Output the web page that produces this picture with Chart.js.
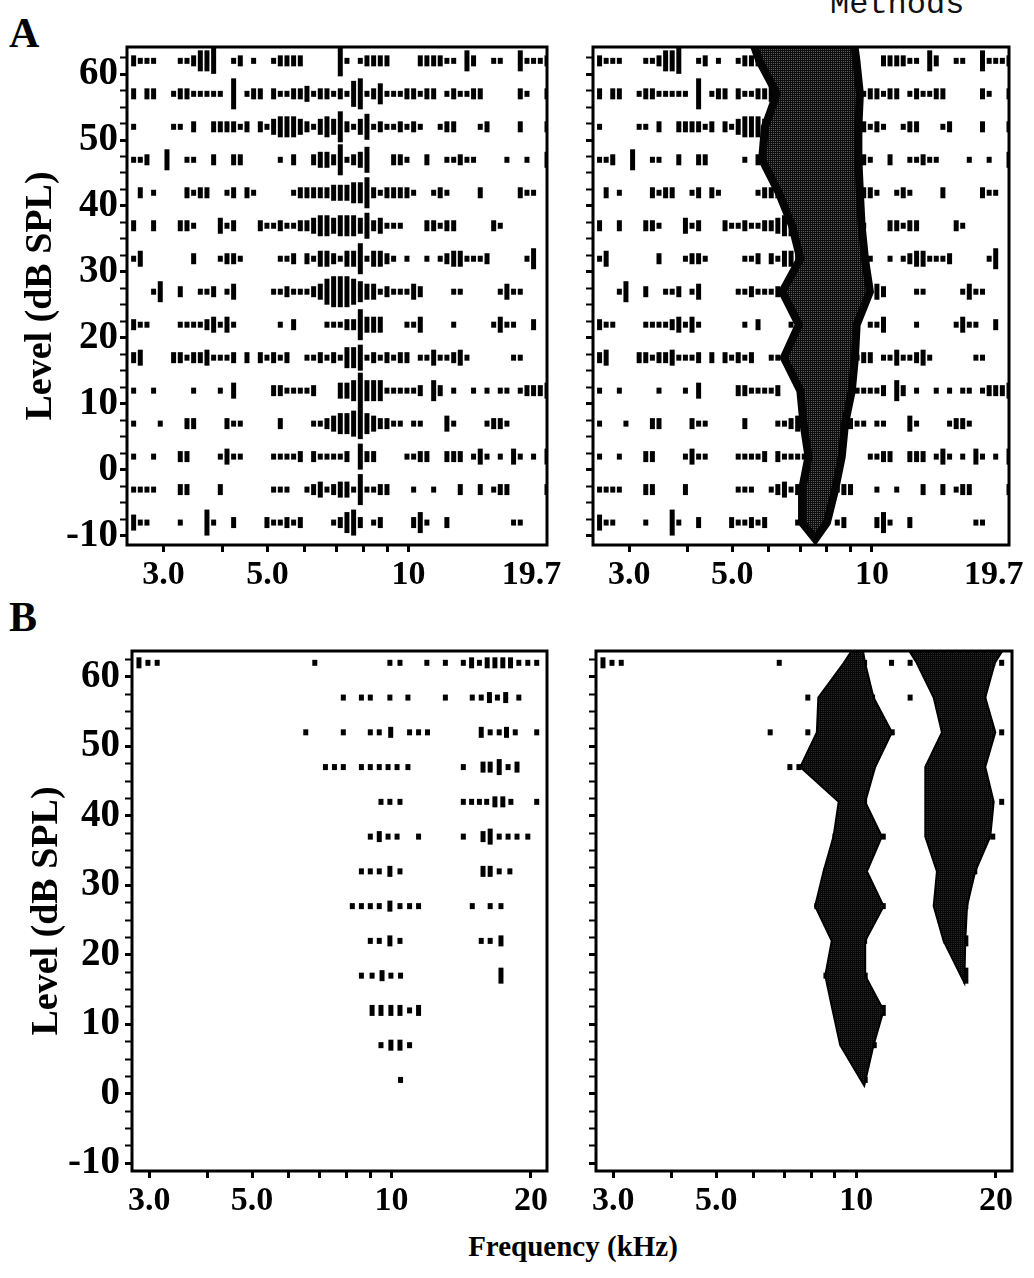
<!DOCTYPE html>
<html>
<head>
<meta charset="utf-8">
<title>Frequency response areas</title>
<script src="https://cdn.jsdelivr.net/npm/chart.js@4.4.0/dist/chart.umd.min.js"></script>
<style>
  html, body { margin: 0; padding: 0; background: #fff; }
  body { width: 1034px; height: 1278px; position: relative; overflow: hidden; font-family: 'Liberation Serif', serif; }
  canvas { position: absolute; }
  .tag { position: absolute; font-weight: bold; font-size: 42px; line-height: 1; color: #000; }
  #methods { position: absolute; left: 830px; top: -11px; font-family: 'Liberation Mono', monospace; font-size: 32px; line-height: 32px; color: #111; }
  #xtitle { position: absolute; left: 373px; width: 400px; top: 1229px; text-align: center; font-weight: bold; font-size: 29px; line-height: 1.2; color: #000; }
</style>
</head>
<body>
<div id="methods">Methods</div>
<div class="tag" style="left:9px;top:12px">A</div>
<div class="tag" style="left:9px;top:596px">B</div>
<canvas id="aLeft"></canvas>
<canvas id="aRight"></canvas>
<canvas id="bLeft"></canvas>
<canvas id="bRight"></canvas>
<div id="xtitle">Frequency (kHz)</div>

<script>
// stimulus levels of the raster rows, dB SPL (top row first)
const levels = [62, 57, 52, 47, 42, 37, 32, 27, 22, 17, 12, 7, 2, -3, -8];

// stimulus frequencies of the A rasters, kHz
const freqsA = [
  2.589, 2.675, 2.764, 2.856, 2.951, 3.050, 3.151, 3.256, 3.365, 3.477,
  3.593, 3.712, 3.836, 3.964, 4.096, 4.232, 4.373, 4.519, 4.669, 4.825,
  4.985, 5.151, 5.323, 5.500, 5.683, 5.873, 6.068, 6.270, 6.479, 6.695,
  6.918, 7.148, 7.386, 7.632, 7.887, 8.149, 8.421, 8.701, 8.991, 9.290,
  9.600, 9.919, 10.25, 10.59, 10.94, 11.31, 11.68, 12.07, 12.48, 12.89,
  13.32, 13.76, 14.22, 14.70, 15.19, 15.69, 16.21, 16.75, 17.31, 17.89,
  18.48, 19.10, 19.74
];

// spike counts per frequency (one digit per entry of freqsA), one string per level
const rasterA = [
  '2111000112 4450012010 0122220000 0610122220 0002222110 4200110041 112',
  '2022001221 1111060122 0211223122 1215612411 1221220121 1220000021 002',
  '1000001102 0022221202 1344432134 3621351211 2121001220 0012000020 002',
  '1120040011 0020022000 0010200233 2612350002 2100200112 1100001001 003',
  '0201000021 2200120210 0000122222 3334462122 2210012100 0020000021 100',
  '2002000221 0003120002 1121122344 3444352311 1000221220 0000210000 000',
  '1300000002 0001221000 0011202133 2133613321 0100101233 1112000001 400',
  '0001400200 1120130000 0112111235 6665433121 1132000011 0000013110 000',
  '2110000111 1231310000 0010200001 1122633300 0113000010 0000131100 200',
  '2300002212 2311120202 1212001121 2144512121 2201131123 1000000110 000',
  '1001000001 0001030000 0221111200 0334744411 1112042010 0101011012 223',
  '1000100022 0000211000 0020000112 3445643221 1011000310 0001221000 000',
  '1001000220 0001311000 0111120211 1120522000 0112200222 0131010310 103',
  '1111000220 0002000000 0111001231 2331611220 0010010002 0020122000 002',
  '3110000100 0510020000 2112120000 1245201200 0024100200 0000000110 000'
];

// B rasters: [kHz, spike count] per level
const rasterB = [
  [[2.85,2],[2.98,1],[3.12,1],[6.83,1],[9.92,1],[10.43,1],[11.92,1],[13.07,1],[14.29,1],[14.89,2],[15.48,1],[16.09,2],[16.72,2],[17.39,2],[18.07,2],[18.83,1],[19.69,1],[20.58,1]],
  [[7.87,1],[8.61,1],[9.00,1],[9.92,1],[10.85,1],[13.07,1],[14.94,1],[15.62,1],[16.27,2],[16.93,1],[17.64,2],[18.83,1]],
  [[6.53,1],[7.87,1],[9.00,1],[9.41,1],[9.96,2],[10.94,1],[11.44,1],[11.96,1],[15.62,2],[16.33,1],[17.08,1],[17.71,2],[18.50,1],[20.58,1]],
  [[7.20,1],[7.53,1],[7.87,1],[8.61,1],[9.00,1],[9.41,1],[9.83,1],[10.28,1],[10.85,1],[14.29,1],[15.76,2],[16.33,2],[17.08,3],[17.85,1],[18.66,2]],
  [[9.49,1],[9.92,1],[10.43,1],[14.29,1],[14.89,1],[15.48,1],[16.05,1],[16.72,2],[17.39,2],[18.10,1],[20.58,1]],
  [[9.00,1],[9.41,2],[9.83,1],[10.28,1],[11.44,1],[14.29,1],[15.76,2],[16.33,3],[17.08,1],[17.85,1],[18.66,1],[19.69,1]],
  [[8.61,1],[9.00,1],[9.41,1],[9.92,2],[10.43,1],[15.76,2],[16.33,2],[17.08,1],[18.01,1]],
  [[8.23,1],[8.61,1],[9.00,1],[9.41,1],[9.92,2],[10.43,1],[10.94,1],[11.44,1],[14.94,1],[16.33,1],[17.23,1]],
  [[9.00,1],[9.41,1],[9.92,2],[10.43,1],[15.62,1],[16.33,1],[17.23,2]],
  [[8.61,1],[9.08,1],[9.54,2],[9.97,1],[10.46,1],[17.23,3]],
  [[9.08,2],[9.49,2],[9.97,2],[10.43,2],[10.94,1],[11.44,2]],
  [[9.49,1],[9.97,2],[10.43,2],[10.94,1]],
  [[10.46,1]],
  [],
  []
];

// response-area outlines: [kHz, dB SPL], low edge downwards then high edge upwards
const areaA = [
  [5.46,66],[5.72,62],[6.24,57],[5.88,52],[5.80,47],[6.30,42],[6.73,37],[7.01,32],[6.41,27],[6.96,22],
  [6.46,17],[7.01,12],[7.12,7],[7.30,2],[7.07,-3],[7.07,-8],[7.55,-10.5],
  [8.00,-8],[8.33,-3],[8.61,2],[8.75,7],[9.05,12],[9.19,17],[9.27,22],[9.90,27],[9.66,32],
  [9.50,37],[9.42,42],[9.35,47],[9.35,52],[9.42,57],[9.26,62],[9.10,66]
];
const areaB1 = [
  [9.95,64.5],[9.41,62],[8.29,57],[8.23,52],[7.58,47],[9.17,42],[8.94,37],[8.51,32],[8.16,27],[8.86,22],
  [8.58,17],[8.90,12],[9.24,7],[10.41,1.2],
  [10.90,7],[11.46,12],[10.46,17],[10.46,22],[11.46,27],[10.55,32],[11.36,37],[10.46,42],[10.99,47],
  [11.94,52],[10.90,57],[10.45,62],[10.30,64.5]
];
const areaB2 = [
  [12.8,64.5],[13.5,62],[14.69,57],[15.30,52],[14.09,47],[14.09,42],[14.09,37],[14.93,32],[14.69,27],[15.43,22],
  [17.1,16],
  [17.18,22],[17.33,27],[18.05,32],[19.45,37],[19.78,42],[18.97,47],[19.94,52],[18.97,57],[19.9,62],[21.0,64.5]
];

// axis ticks
const xTicksA = [3, 4, 5, 6, 7, 8, 9, 10, 18.3];
const xLabelsA = { 3: '3.0', 5: '5.0', 10: '10', 18.3: '19.7' };
const xTicksB = [3, 4, 5, 6, 7, 8, 9, 10, 20];
const xLabelsB = { 3: '3.0', 5: '5.0', 10: '10', 20: '20' };
const levelTicks = [];
for (let v = -10; v <= 62.5; v += 2.5) levelTicks.push(v);

// half length (px) of a raster mark for a given spike count
const markHalf = [0, 3, 5.5, 8, 10.5, 13, 15.5, 18];

const xFont = { family: 'Liberation Serif', size: 34, weight: 'bold' };
const yFont = { family: 'Liberation Serif', size: 39, weight: 'bold' };
const titleFont = { family: 'Liberation Serif', size: 38, weight: 'bold' };

const frame = {
  id: 'frame',
  afterDatasetsDraw(chart) {
    const { ctx, chartArea: a } = chart;
    ctx.save();
    ctx.lineWidth = 3;
    ctx.strokeStyle = '#000';
    ctx.strokeRect(a.left, a.top, a.right - a.left, a.bottom - a.top);
    ctx.restore();
  }
};

function stipple(ctx, dark, light) {
  const c = document.createElement('canvas');
  c.width = c.height = 2;
  const g = c.getContext('2d');
  g.fillStyle = dark;
  g.fillRect(0, 0, 2, 2);
  g.fillStyle = light;
  g.fillRect(1, 1, 1, 1);
  return ctx.createPattern(c, 'repeat');
}

function pointsA() {
  const pts = [];
  rasterA.forEach((row, i) => {
    row.replace(/ /g, '').split('').forEach((d, k) => {
      const c = +d;
      if (c > 0) pts.push({ x: freqsA[k], y: levels[i], c });
    });
  });
  return pts;
}

function pointsB() {
  const pts = [];
  rasterB.forEach((row, i) => row.forEach(([f, c]) => pts.push({ x: f, y: levels[i], c })));
  return pts;
}

function rasterSet(pts) {
  return {
    data: pts,
    clip: 0,
    showLine: false,
    pointStyle: 'line',
    pointRotation: 90,
    pointRadius: c => (c.raw ? markHalf[c.raw.c] : 0),
    pointBorderWidth: 5,
    pointBorderColor: '#000',
    pointBackgroundColor: '#000'
  };
}

function areaSet(pairs, fill, edge, edgeWidth) {
  return {
    data: pairs.map(([f, l]) => ({ x: f, y: l })),
    clip: 0,
    showLine: true,
    fill: 'shape',
    backgroundColor: fill,
    borderColor: edge,
    borderWidth: edgeWidth,
    borderJoinStyle: 'miter',
    tension: 0,
    pointRadius: 0
  };
}

function xAxis(range, values, labels, hidden) {
  return {
    type: 'logarithmic',
    min: range[0],
    max: range[1],
    afterBuildTicks: s => { s.ticks = values.map(v => ({ value: v })); },
    afterFit: s => { s.height = 53; s.paddingLeft = 0; s.paddingRight = 0; },
    border: { display: false },
    grid: {
      drawOnChartArea: false,
      tickLength: 7,
      tickWidth: 3,
      tickColor: c => (c.tick && c.tick.value === hidden ? 'rgba(0,0,0,0)' : '#000')
    },
    ticks: {
      autoSkip: false, maxRotation: 0, minRotation: 0, padding: 3,
      color: '#000', font: xFont,
      callback: v => labels[v] ?? ''
    }
  };
}

function yAxis(range, width, title, titlePad, labelPad) {
  return {
    type: 'linear',
    min: range[0],
    max: range[1],
    afterBuildTicks: s => { s.ticks = levelTicks.map(v => ({ value: v })); },
    afterFit: s => { s.width = width; s.paddingTop = 0; s.paddingBottom = 0; },
    border: { display: false },
    grid: {
      drawOnChartArea: false,
      tickLength: 7,
      tickColor: '#000',
      tickWidth: c => (c.tick && c.tick.value % 10 === 0 ? 3 : 2)
    },
    ticks: {
      display: !!title, autoSkip: false, padding: labelPad, color: '#000', font: yFont,
      callback: v => (v % 10 === 0 ? String(v) : '')
    },
    title: {
      display: !!title, text: title || '', color: '#000', font: titleFont,
      padding: { top: titlePad, bottom: 0 }
    }
  };
}

function panel(id, box, datasets, scales) {
  const cv = document.getElementById(id);
  cv.width = box.w;
  cv.height = box.h;
  cv.style.left = box.x + 'px';
  cv.style.top = box.y + 'px';
  return new Chart(cv.getContext('2d'), {
    type: 'scatter',
    data: { datasets: datasets(cv.getContext('2d')) },
    options: {
      responsive: false,
      animation: false,
      events: [],
      layout: { padding: { top: box.padTop, right: box.padRight, left: 0, bottom: 0 } },
      plugins: { legend: { display: false }, tooltip: { enabled: false } },
      scales
    },
    plugins: [frame]
  });
}

const rangeA = [2.506, 19.74];
const rangeB = [2.753, 21.66];
const levA = [-11.4, 64.1];
const levB = [-11.1, 63.7];

panel('aLeft', { x: 0, y: 0, w: 575, h: 598, padTop: 47, padRight: 28 },
  () => [rasterSet(pointsA())],
  { x: xAxis(rangeA, xTicksA, xLabelsA, 18.3), y: yAxis(levA, 127, 'Level (dB SPL)', 18, 2) });

panel('aRight', { x: 570, y: 0, w: 464, h: 598, padTop: 47, padRight: 25 },
  ctx => [areaSet(areaA, stipple(ctx, '#0e0e0e', '#5c5c5c'), '#040404', 8), rasterSet(pointsA())],
  { x: xAxis(rangeA, xTicksA, xLabelsA, 18.3), y: yAxis(levA, 21) });

panel('bLeft', { x: 0, y: 600, w: 575, h: 624, padTop: 51, padRight: 28 },
  () => [rasterSet(pointsB())],
  { x: xAxis(rangeB, xTicksB, xLabelsB), y: yAxis(levB, 132, 'Level (dB SPL)', 24, 5) });

panel('bRight', { x: 570, y: 600, w: 464, h: 624, padTop: 51, padRight: 22 },
  ctx => [
    areaSet(areaB1, stipple(ctx, '#070707', '#2a2a2a'), '#000', 2),
    areaSet(areaB2, stipple(ctx, '#070707', '#2a2a2a'), '#000', 2),
    rasterSet(pointsB())
  ],
  { x: xAxis(rangeB, xTicksB, xLabelsB), y: yAxis(levB, 26) });
</script>
</body>
</html>
